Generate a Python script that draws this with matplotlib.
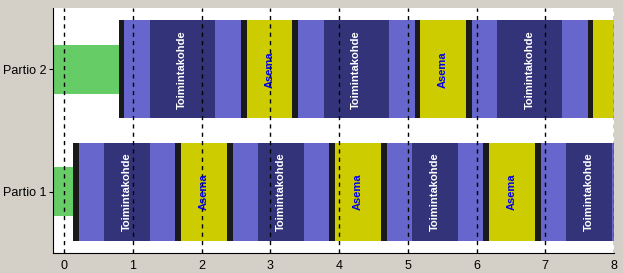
import matplotlib.pyplot as plt

# Partio-aikataulu: segmenttien rajat (tunteina) ja tyypit
rows = ["Partio 1", "Partio 2"]

p1_edges = [-0.3, 0.127, 0.215, 0.578, 1.246, 1.61, 1.70, 2.366, 2.454, 2.817, 3.486,
            3.855, 3.937, 4.606, 4.693, 5.057, 5.726, 6.09, 6.178, 6.847, 6.935, 7.3, 7.97, 8.3]
p1_kinds = ["lahto", "siirto", "ajo", "kohde", "ajo", "siirto", "asema", "siirto", "ajo", "kohde",
            "ajo", "siirto", "asema", "siirto", "ajo", "kohde", "ajo", "siirto", "asema", "siirto",
            "ajo", "kohde", "ajo"]

p2_edges = [-0.3, 0.796, 0.864, 1.246, 2.19, 2.57, 2.657, 3.312, 3.40, 3.78, 4.72,
            5.10, 5.17, 5.84, 5.93, 6.29, 7.25, 7.62, 7.70, 8.3]
p2_kinds = ["lahto", "siirto", "ajo", "kohde", "ajo", "siirto", "asema", "siirto", "ajo", "kohde",
            "ajo", "siirto", "asema", "siirto", "ajo", "kohde", "ajo", "siirto", "asema"]

colors = {"lahto": "#66CC66", "siirto": "#1A1A1A", "ajo": "#6666CC",
          "kohde": "#333379", "asema": "#CCCC00"}
labels = {"kohde": ("Toimintakohde", "white"), "asema": ("Asema", "#0000EE")}

plt.rcParams['font.family'] = ['Liberation Sans', 'DejaVu Sans']

fig = plt.figure(figsize=(6.23, 2.73), dpi=100, facecolor="#D4D0C8")
ax = fig.add_axes([0.0851, 0.0733, 0.9005, 0.8974])
ax.set_facecolor("white")

for y, (edges, kinds) in enumerate([(p1_edges, p1_kinds), (p2_edges, p2_kinds)]):
    for i, k in enumerate(kinds):
        left, right = edges[i], edges[i + 1]
        h = 0.4 if k == "lahto" else 0.8
        ax.barh(y, right - left, left=left, height=h, color=colors[k],
                edgecolor="none", zorder=2)
        if k in labels:
            txt, col = labels[k]
            cx = (left + right) / 2
            if cx < 8:
                ax.text(cx, y, txt, rotation=90, ha="center", va="center",
                        color=col, fontsize=8, fontweight="bold", zorder=4,
                        clip_on=True)

ax.set_xlim(-0.164, 8)
ax.set_ylim(-0.5, 1.5)
ax.set_xticks(range(9))
ax.set_yticks([0, 1])
ax.set_yticklabels(rows)
ax.tick_params(axis="x", labelsize=9, direction="out", length=0, pad=5)
ax.tick_params(axis="y", labelsize=9, direction="out", length=3, pad=1.5)
ax.xaxis.grid(True, linestyle=(0, (3, 3)), color="black", linewidth=1, zorder=3)
ax.set_axisbelow(False)
for s in ["top", "right"]:
    ax.spines[s].set_visible(False)

fig.savefig("out.png", dpi=100, facecolor=fig.get_facecolor())
